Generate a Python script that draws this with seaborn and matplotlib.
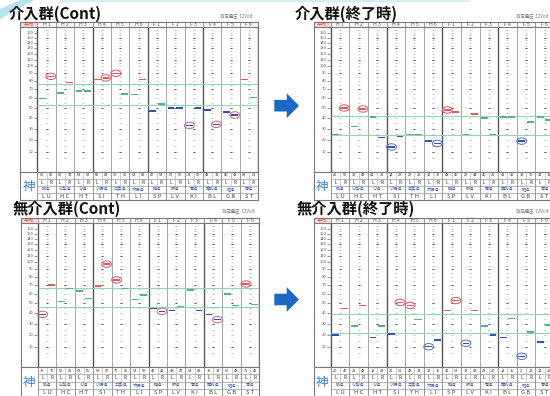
import numpy as np
import pandas as pd
import matplotlib
matplotlib.use("Agg")
import matplotlib.pyplot as plt
import seaborn as sns
from matplotlib.path import Path
from matplotlib.patches import Polygon, Rectangle

W, H = 550, 396

MERIDIANS = ["H1", "H2", "H3", "H4", "H5", "H6", "F1", "F2", "F3", "F4", "F5", "F6"]
ABBREV = ["LU", "HC", "HT", "SI", "TH", "LI", "SP", "LV", "KI", "BL", "GB", "ST"]
NAMES = ["肺経", "心包経", "心経", "小腸経", "三焦経", "大腸経",
         "脾経", "肝経", "腎経", "膀胱経", "胆経", "胃経"]
Y_TICKS = [10, 20, 30, 40, 50, 60, 70, 80, 90, 100, 110, 120, 130, 140, 150, 160]

# 介入群(Cont)
INT_CONT_L = [60, 66, 68, 82, 90, 64, 47, 50, 33, 48, 46, 82]
INT_CONT_R = [86, 78, 68, 84, 65, 82, 54, 50, 50, 34, 43, 61]
INT_CONT_BAND = [53, 76]
INT_CONT_MARKED = ["H1R", "H4R", "H5L", "F3L", "F4R", "F5R"]

# 介入群(終了時)
INT_END_L = [25, 32, 41, 14, 25, 19, 48, 25, 40, 41, 19, 41]
INT_END_R = [50, 49, 22, 23, 25, 17, 46, 44, 25, 41, 36, 38]
INT_END_BAND = [24, 42]
INT_END_MARKED = ["H1R", "H2R", "H4L", "H6R", "F1L", "F5L"]

# 無介入群(Cont)
NON_CONT_L = [39, 52, 63, 69, 76, 54, 45, 43, 64, 39, 60, 71]
NON_CONT_R = [70, 66, 55, 97, 66, 59, 42, 47, 43, 34, 48, 49]
NON_CONT_BAND = [46, 67]
NON_CONT_MARKED = ["H1L", "H4R", "H5L", "F1R", "F4R", "F6L"]

# 無介入群(終了時)
NON_END_L = [20, 28, 18, 21, 48, 10, 43, 13, 28, 18, 2, 14]
NON_END_R = [45, 48, 28, 51, 34, 16, 53, 43, 20, 35, 23, 29]
NON_END_BAND = [21.5, 39]
NON_END_MARKED = ["H4R", "H5L", "H6L", "F1R", "F2L", "F5L"]

SCALE_VALUES = [-20, 0, 10, 20, 30, 40, 50, 60, 70, 80, 90, 100, 110, 120, 130, 140, 150, 160, 200]
SCALE_POS = [-72, 0, 36, 71, 105, 137, 167, 196, 223, 248, 271, 292, 311, 329, 346, 362, 377, 392, 452]

STATUS_COLORS = {"high": "#e45a5c", "normal": "#4db487", "low": "#2a55b2"}
LEFT_COL = 0.92

BAR_MARKER = Path([(-1, -0.22), (1, -0.22), (1, 0.22), (-1, 0.22), (-1, -0.22)],
                  [Path.MOVETO, Path.LINETO, Path.LINETO, Path.LINETO, Path.CLOSEPOLY])
RING_MARKER = Path(Path.unit_circle().vertices * [1, 0.65], Path.unit_circle().codes)


def scale_fwd(v):
    return np.interp(v, SCALE_VALUES, SCALE_POS)


def scale_inv(p):
    return np.interp(p, SCALE_POS, SCALE_VALUES)


def px_rect(left, top, right, bottom):
    return [left / W, 1 - bottom / H, (right - left) / W, (bottom - top) / H]


def plain(ax, edge="#7a7a7a"):
    ax.set_xticks([])
    ax.set_yticks([])
    ax.set_xlabel("")
    ax.set_ylabel("")
    for s in ax.spines.values():
        s.set_color(edge)
        s.set_linewidth(0.8)


def draw_panel(fig, title, left_vals, right_vals, band, marked, layout, ring_low):
    x0, cw, y_head, y_body, y_tab, y_end, tx, ty = layout
    left, right = x0 - LEFT_COL * cw, x0 + 12 * cw

    fig.text(tx / W, 1 - ty / H, title, fontsize=11, fontweight="bold",
             ha="left", va="center", color="#111")
    fig.text((right - 5) / W, 1 - (ty + 1.5) / H, "測定電圧  12Volt",
             fontsize=3.2, ha="right", va="center", color="#777")

    # header row
    axh = fig.add_axes(px_rect(left, y_head, right, y_body))
    axh.set_xlim(-LEFT_COL, 12)
    axh.set_ylim(0, 1)
    axh.add_patch(Rectangle((-LEFT_COL, 0), LEFT_COL, 1, color="#fbdada", lw=0))
    axh.text(-LEFT_COL / 2, 0.5, "平均", color="#e0403c", fontsize=3.6,
             ha="center", va="center")
    for i, m in enumerate(MERIDIANS):
        axh.text(i + 0.5, 0.48, m[0] + " " + m[1], fontsize=3.8, color="#555",
                 ha="center", va="center")
    axh.vlines(range(13), 0, 1, color="#8a8a8a", lw=0.6)
    plain(axh)

    # chart body
    ax = fig.add_axes(px_rect(left, y_body, right, y_tab))
    df = pd.DataFrame({
        "x": np.r_[np.arange(12) + 0.27, np.arange(12) + 0.73],
        "value": list(left_vals) + list(right_vals),
        "key": [m + "L" for m in MERIDIANS] + [m + "R" for m in MERIDIANS],
    })
    lo, hi = band
    df["status"] = np.where(df["value"] > hi, "high",
                            np.where(df["value"] < lo, "low", "normal"))

    # each meridian's own dotted scale
    marks = np.arange(5, 170, 5)
    for i in range(12):
        ax.plot(np.full(len(marks), i + 0.5), marks, ls="none", marker="_",
                ms=1.5, mew=0.5, color="#a8a8a8", zorder=2)
        ax.plot(np.full(len(marks[1::4]), i + 0.5), marks[1::4], ls="none", marker="_",
                ms=1.7, mew=0.7, color="#555", zorder=2)

    ax.hlines(band, 0, 12, color="#93d6b4", lw=0.8, zorder=3)
    sns.scatterplot(data=df, x="x", y="value", hue="status", palette=STATUS_COLORS,
                    marker=BAR_MARKER, s=24, linewidth=0, legend=False, ax=ax, zorder=4)

    ring = df[df["key"].isin(marked)]
    ring_cols = ["#e0506a" if st == "high" else ring_low for st in ring["status"]]
    ax.scatter(ring["x"], ring["value"], marker=RING_MARKER, s=50,
               facecolors="none", edgecolors=ring_cols, linewidths=0.7, zorder=5)

    for v in Y_TICKS:
        ax.text(-0.22, v, str(v), fontsize=3.0, color="#555", ha="right", va="center")
    ax.hlines(Y_TICKS, -0.19, -0.04, color="#666", lw=0.5)

    for i in range(13):
        thick = i % 3 == 0
        ax.axvline(i, color="#555" if thick else "#999", lw=1.0 if thick else 0.6, zorder=1)

    ax.set_yscale("function", functions=(scale_fwd, scale_inv))
    ax.set_xlim(-LEFT_COL, 12)
    ax.set_ylim(-7, 172)
    plain(ax)
    ax.set_yticks([], minor=True)

    # table under the chart
    axt = fig.add_axes(px_rect(left, y_tab, right, y_end))
    axt.set_xlim(-LEFT_COL, 12)
    axt.set_ylim(4, 0)
    axt.hlines([1, 2, 3], 0, 12, color="#999", lw=0.5)
    axt.vlines(range(13), 0, 4, color="#888", lw=0.6)
    axt.vlines(np.arange(12) + 0.5, 0, 2, color="#aaa", lw=0.4)
    for i in range(12):
        axt.text(i + 0.25, 0.5, f"{left_vals[i]:.0f}", fontsize=2.8, ha="center", va="center", color="#333")
        axt.text(i + 0.75, 0.5, f"{right_vals[i]:.0f}", fontsize=2.8, ha="center", va="center", color="#333")
        axt.text(i + 0.25, 1.5, "L", fontsize=3.4, ha="center", va="center", color="#333")
        axt.text(i + 0.75, 1.5, "R", fontsize=3.4, ha="center", va="center", color="#333")
        axt.text(i + 0.5, 2.5, NAMES[i], fontsize=3.0, ha="center", va="center", color="#3c5ea8")
        axt.text(i + 0.5, 3.5, ABBREV[i][0] + " " + ABBREV[i][1], fontsize=4.2,
                 ha="center", va="center", color="#444")
    axt.text(-LEFT_COL / 2, 2.1, "神", fontsize=9, color="#3d86d6", ha="center",
             va="center", style="italic")
    plain(axt)


sns.set_theme(style="white")
plt.rcParams["font.family"] = ["Noto Sans CJK JP", "DejaVu Sans"]

fig = plt.figure(figsize=(W / 100, H / 100), dpi=100)
fig.patch.set_facecolor("white")

# slide decoration, top-left corner
fig.add_artist(Polygon([(0, 1 - 9 / H), (20 / W, 1), (34 / W, 1), (0, 1 - 19 / H)],
                       closed=True, color="#b6e3f3", lw=0, transform=fig.transFigure))
fig.add_artist(plt.Line2D([60 / W, 470 / W], [1 - 1 / H, 1 - 1 / H], color="#cfe9f4",
                          lw=1.2, transform=fig.transFigure))

PANELS = [
    ("介入群(Cont)", INT_CONT_L, INT_CONT_R, INT_CONT_BAND, INT_CONT_MARKED,
     (37.3, 18.4, 21.5, 27.0, 172.0, 199.5, 9, 14), "#d4607c"),
    ("介入群(終了時)", INT_END_L, INT_END_R, INT_END_BAND, INT_END_MARKED,
     (330.7, 18.6, 21.5, 27.0, 172.0, 199.5, 295, 14), "#5a6ad0"),
    ("無介入群(Cont)", NON_CONT_L, NON_CONT_R, NON_CONT_BAND, NON_CONT_MARKED,
     (37.7, 18.47, 217.5, 223.0, 367.0, 396.0, 13, 209), "#d4607c"),
    ("無介入群(終了時)", NON_END_L, NON_END_R, NON_END_BAND, NON_END_MARKED,
     (330.7, 18.6, 217.5, 223.0, 367.0, 396.0, 297, 209), "#5a6ad0"),
]
for title, lv, rv, band, marked, layout, ring_low in PANELS:
    draw_panel(fig, title, lv, rv, band, marked, layout, ring_low)

# arrows between the before / after charts
for cy in [105.7, 299.5]:
    pts = [(274.3, cy - 5.8), (286.7, cy - 5.8), (286.7, cy - 12.4), (299, cy),
           (286.7, cy + 12.4), (286.7, cy + 5.8), (274.3, cy + 5.8)]
    fig.add_artist(Polygon([(x / W, 1 - y / H) for x, y in pts], closed=True,
                           color="#1c68c6", lw=0, transform=fig.transFigure))

fig.savefig("out.png", dpi=100)
